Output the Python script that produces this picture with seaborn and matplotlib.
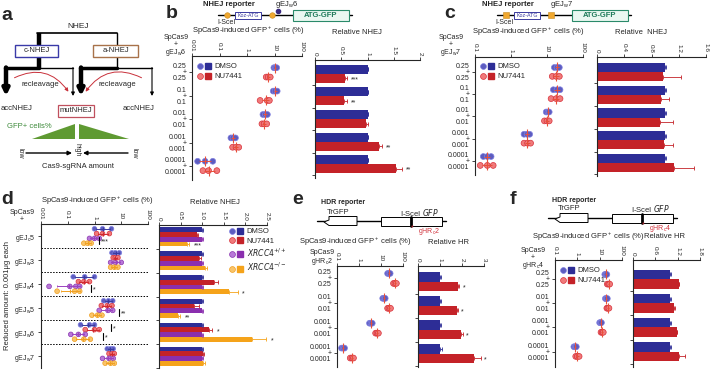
import numpy as np
import pandas as pd
import matplotlib
matplotlib.use("Agg")
import matplotlib.pyplot as plt
import matplotlib.ticker as mticker
import seaborn as sns
from matplotlib.colors import to_hex
from matplotlib.lines import Line2D
from matplotlib.legend_handler import HandlerTuple
from matplotlib.patches import Rectangle, Polygon, FancyArrowPatch

sns.set_style("ticks")
plt.rcParams["font.family"] = ["Liberation Sans", "DejaVu Sans"]
plt.rcParams["mathtext.default"] = "regular"
plt.rcParams["font.size"] = 5

# ---------------- data ----------------
# panel b (gEJw6, NHEJ reporter)
b_doses = ["0.25", "0.1", "0.01", "0.001", "0.0001"]
b_dmso_pts = [[9.5, 10.8, 12.0], [9.0, 10.5, 12.5], [3.8, 4.6, 5.5], [0.26, 0.31, 0.38], [0.016, 0.03, 0.057]]
b_nu_pts = [[5.0, 5.9, 7.0], [3.0, 5.4, 6.5], [3.5, 4.2, 5.2], [0.3, 0.4, 0.5], [0.025, 0.04, 0.08]]
b_rel_dmso = [1.0, 1.0, 1.0, 1.0, 1.0]
b_rel_nu = [0.58, 0.56, 0.98, 1.21, 1.55]
b_err_dmso = [0.01, 0.01, 0.01, 0.01, 0.01]
b_err_nu = [0.03, 0.04, 0.03, 0.06, 0.10]
b_stars = ["***", "**", "", "**", "**"]

# panel c (gEJw7)
c_dmso_pts = [[16, 19, 22], [15, 19, 23], [9.5, 10.6, 11.5], [2.3, 2.8, 3.3], [0.17, 0.22, 0.28]]
c_nu_pts = [[14, 18, 22], [13, 18, 23], [8.5, 10, 11.5], [2.3, 2.9, 3.5], [0.14, 0.22, 0.32]]
c_rel_dmso = [1.0, 1.0, 1.0, 1.0, 1.0]
c_rel_nu = [0.97, 0.94, 0.92, 0.99, 1.13]
c_err_dmso = [0.01, 0.01, 0.01, 0.01, 0.01]
c_err_nu = [0.27, 0.11, 0.19, 0.12, 0.29]

# panel d (reduced amount 0.001 ug each)
d_guides = ["gEJ$_c$5", "gEJ$_w$3", "gEJ$_w$4", "gEJ$_w$5", "gEJ$_w$6", "gEJ$_w$7"]
d_dmso_pts = [[1.0, 2.0, 4.3], [4.5, 6.0, 8.5], [0.16, 0.43, 1.0], [2.2, 3.3, 4.8], [0.3, 0.65, 1.0], [3.0, 4.0, 5.0]]
d_nu_pts = [[1.2, 2.0, 3.6], [5.0, 6.0, 7.5], [0.25, 0.4, 0.65], [1.8, 3.0, 4.5], [0.45, 1.0, 1.5], [3.5, 4.5, 5.5]]
d_xp_pts = [[0.65, 1.0, 1.5], [4.0, 6.0, 10.0], [0.02, 0.12, 0.2, 0.28], [1.5, 3.2, 4.8], [0.13, 0.25, 0.45], [2.0, 3.5, 5.0]]
d_xm_pts = [[0.4, 0.55, 0.75], [4.0, 5.5, 7.5], [0.04, 0.18, 0.28], [0.8, 1.3, 1.9], [0.18, 0.4, 0.7], [2.5, 4.0, 5.5]]
d_rel_dmso = [1.0, 1.0, 1.0, 1.0, 1.0, 1.0]
d_rel_nu = [0.87, 0.93, 1.27, 0.80, 1.16, 1.02]
d_rel_xp = [1.0, 1.0, 1.0, 1.0, 1.0, 1.0]
d_rel_xm = [0.65, 1.06, 1.62, 0.44, 2.15, 1.03]
d_err_dmso = [0.01, 0.01, 0.01, 0.01, 0.01, 0.01]
d_err_nu = [0.04, 0.04, 0.10, 0.13, 0.07, 0.02]
d_err_xp = [0.01, 0.01, 0.01, 0.01, 0.01, 0.01]
d_err_xm = [0.05, 0.06, 0.21, 0.05, 0.33, 0.04]
d_stars_nu = ["", "", "", "", "*", ""]
d_stars_xm = ["***", "", "*", "**", "*", ""]
# scatter brackets: (guide index, first hue, second hue, x position, label)
d_brackets = [(0, 2, 3, 1.5, "***"), (2, 2, 3, 0.77, "*"), (3, 2, 3, 8.4, "**"),
              (4, 0, 1, 4.3, "*"), (4, 2, 3, 2.15, "*")]

# panel e (HDR, gHRc2)
e_doses = ["0.25", "0.01", "0.001", "0.0001"]
e_dmso_pts = [[20, 23, 26], [12, 13.7, 15.5], [3.0, 3.5, 4.0], [0.16, 0.19, 0.22]]
e_nu_pts = [[37, 43, 50], [20, 23, 27], [5.7, 6.6, 7.6], [0.4, 0.48, 0.56]]
e_rel_dmso = [1.0, 1.0, 1.0, 1.0]
e_rel_nu = [1.8, 1.75, 1.97, 2.55]
e_err_dmso = [0.03, 0.03, 0.05, 0.08]
e_err_nu = [0.07, 0.07, 0.08, 0.30]
e_stars = ["*", "*", "*", "*"]

# panel f (HDR, gHRc4)
f_doses = ["0.25", "0.01", "0.001", "0.0001"]
f_dmso_pts = [[17, 19, 21], [18, 20, 22], [10, 11, 12], [0.7, 0.8, 0.9]]
f_nu_pts = [[22, 25, 28], [21, 23, 26], [11.5, 13, 14.5], [0.85, 1.0, 1.2]]
f_rel_dmso = [1.0, 1.0, 1.0, 1.0]
f_rel_nu = [1.23, 1.09, 1.17, 1.23]
f_err_dmso = [0.01, 0.01, 0.01, 0.01]
f_err_nu = [0.01, 0.04, 0.02, 0.18]

# ---------------- colours ----------------
DOT_FILL = {"DMSO": "#5c5cc0", "NU7441": "#f07a7a", "XRCC4+/+": "#b878d8", "XRCC4-/-": "#f9c46a"}
DOT_EDGE = {"DMSO": "#8080e0", "NU7441": "#d8303a", "XRCC4+/+": "#8a35b0", "XRCC4-/-": "#f0a020"}
BAR_COL = {"DMSO": "#2d2d96", "NU7441": "#c42228", "XRCC4+/+": "#8a2fae", "XRCC4-/-": "#f5a31a"}
ERR_COL = {"DMSO": "#3a3aa0", "NU7441": "#d0282e", "XRCC4+/+": "#9b42c0", "XRCC4-/-": "#f0a020"}
RED_ERR = "#e8503a"

W, H = 710, 370
fig = plt.figure(figsize=(W / 100, H / 100), dpi=100)
bg = fig.add_axes([0, 0, 1, 1])
bg.set_xlim(0, W)
bg.set_ylim(H, 0)
bg.axis("off")


def px(x0, y0, x1, y1):
    return [x0 / W, 1 - y1 / H, (x1 - x0) / W, (y1 - y0) / H]


def hue_offsets(n):
    w = 0.8 / n
    return [-0.4 + w * (j + 0.5) for j in range(n)]


def style(ax, xt, xtl, xlim, ylim):
    ax.set_xlim(*xlim)
    ax.set_ylim(*ylim)
    ax.set_xticks(xt)
    ax.set_xticklabels(xtl)
    ax.xaxis.set_minor_locator(mticker.NullLocator())
    ax.xaxis.tick_top()
    ax.tick_params(axis="x", length=2.5, width=0.6, pad=0.8, labelsize=4.6, labelrotation=-90)
    ax.tick_params(axis="y", length=2.5, width=0.6, pad=1.5, labelsize=5)
    for s in ["right", "bottom"]:
        ax.spines[s].set_visible(False)
    for s in ["left", "top"]:
        ax.spines[s].set_linewidth(0.8)
    ax.set_xlabel("")
    ax.set_ylabel("")
    ax.patch.set_alpha(0)


def dots(ax, cats, groups, pts, err_col, msize, ems, cap=0):
    rows = [(c, g, v) for g, gp in zip(groups, pts) for c, vals in zip(cats, gp) for v in vals]
    df = pd.DataFrame(rows, columns=["cat", "grp", "val"])
    sns.stripplot(data=df, x="val", y="cat", hue="grp", order=cats, hue_order=groups,
                  palette=[DOT_FILL[g] for g in groups], dodge=True, jitter=False,
                  size=msize, linewidth=0.5, log_scale=True, legend=False, ax=ax, zorder=2)
    inv = {to_hex(v): k for k, v in DOT_FILL.items()}
    for coll in ax.collections:
        fc = coll.get_facecolor()
        if len(fc):
            coll.set_edgecolor(DOT_EDGE.get(inv.get(to_hex(fc[0])), "white"))
    offs = hue_offsets(len(groups))
    for j, (g, gp) in enumerate(zip(groups, pts)):
        col = err_col if err_col else ERR_COL[g]
        for i, vals in enumerate(gp):
            lv = np.log10(vals)
            m, s = lv.mean(), lv.std()
            ax.errorbar(10 ** m, i + offs[j], xerr=[[10 ** m - 10 ** (m - s)], [10 ** (m + s) - 10 ** m]],
                        fmt="none", ecolor=col, elinewidth=0.7, capsize=cap, capthick=0.6, zorder=3)
            ax.plot(10 ** m, i + offs[j], marker="|", ms=ems, mew=0.8, color=col, zorder=3)


def bars(ax, cats, groups, vals, errs, stars, pad):
    rows = [(c, g, v) for g, gv in zip(groups, vals) for c, v in zip(cats, gv)]
    df = pd.DataFrame(rows, columns=["cat", "grp", "val"])
    sns.barplot(data=df, x="val", y="cat", hue="grp", order=cats, hue_order=groups,
                palette=[BAR_COL[g] for g in groups], errorbar=None, width=0.8, saturation=1,
                legend=False, ax=ax, linewidth=0, orient="h")
    for cont, g, ge, gs in zip(ax.containers, groups, errs, stars):
        for bar, e, st in zip(cont, ge, gs):
            yc = bar.get_y() + bar.get_height() / 2
            w = bar.get_width()
            ax.errorbar(w, yc, xerr=[[0], [e]], fmt="none", ecolor=BAR_COL[g], elinewidth=0.6,
                        capsize=1.2, capthick=0.6)
            if st:
                ax.text(w + e + pad, yc + 0.08, st, fontsize=5, ha="left", va="center")
    ax.set_yticks(np.arange(len(cats)) + 0.5)
    ax.set_yticklabels([])


def legend_at(x, y, groups, labels, spacing=0.35):
    handles = [(Line2D([], [], ls="", marker="o", ms=4.2, mfc=DOT_FILL[g], mec=DOT_EDGE[g], mew=0.5),
                Line2D([], [], ls="", marker="s", ms=4.2, mfc=BAR_COL[g], mec=BAR_COL[g]))
               for g in groups]
    fig.legend(handles, labels, loc="upper left", bbox_to_anchor=(x, y), bbox_transform=bg.transData,
               frameon=False, fontsize=5.5, handler_map={tuple: HandlerTuple(ndivide=None, pad=0.15)},
               handlelength=1.9, handletextpad=0.4, labelspacing=spacing, borderpad=0, borderaxespad=0)


def dose_labels(cats):
    return [f"{c}\n+\n{c}" for c in cats]


two = ["DMSO", "NU7441"]
log_t = [0.01, 0.1, 1, 10, 100]
log_l = ["0.01", "0.1", "1", "10", "100"]

# ---------------- panel a ----------------
bg.text(1, 15, "a", fontsize=14, fontweight="bold", va="center")
bg.text(78, 27, "NHEJ", ha="center", va="center", fontsize=6)
bg.plot([37, 117], [33, 33], color="k", lw=1.2)
bg.plot([39, 39], [33, 68], color="k", lw=3.2, solid_capstyle="butt")
bg.plot([117, 117], [33, 45], color="k", lw=1.0)
bg.add_patch(Rectangle((15, 45), 43, 12, fc="white", ec="#3a3aa8", lw=1.0, zorder=3))
bg.add_patch(Rectangle((93, 45), 45, 12, fc="white", ec="#a8724a", lw=1.0, zorder=3))
bg.text(36.5, 51, "c-NHEJ", ha="center", va="center", fontsize=5.5, zorder=4)
bg.text(115.5, 51, "a-NHEJ", ha="center", va="center", fontsize=5.5, zorder=4)
bg.plot([5, 73], [68, 68], color="k", lw=1.0)
bg.plot([5, 39], [68, 68], color="k", lw=2.5)
bg.plot([117, 117], [57, 68], color="k", lw=1.0)
bg.plot([80, 152], [68, 68], color="k", lw=1.0)
bg.plot([80, 117], [68, 68], color="k", lw=2.5)
for xa, lw, ms in [(6, 3.2, 9), (73, 0.8, 5), (81, 3.2, 9), (152, 0.8, 5)]:
    bg.annotate("", xy=(xa, 96), xytext=(xa, 67.5),
                arrowprops=dict(arrowstyle="-|>", lw=lw, color="k", mutation_scale=ms, shrinkA=0, shrinkB=0))
bg.add_patch(FancyArrowPatch((12, 79), (70, 94), connectionstyle="arc3,rad=-0.45", arrowstyle="-|>",
                             mutation_scale=5, color="#c8303a", lw=0.7))
bg.add_patch(FancyArrowPatch((144, 79), (84, 94), connectionstyle="arc3,rad=0.45", arrowstyle="-|>",
                             mutation_scale=5, color="#c8303a", lw=0.7))
bg.text(40, 84, "recleavage", ha="center", va="center", fontsize=5.5)
bg.text(117, 84, "recleavage", ha="center", va="center", fontsize=5.5)
bg.text(0.5, 109, "accNHEJ", ha="left", va="center", fontsize=5.5)
bg.text(139, 109, "accNHEJ", ha="center", va="center", fontsize=5.5)
bg.add_patch(Rectangle((58, 105), 36, 12, fc="white", ec="#c0505e", lw=0.9))
bg.text(76, 111, "mutNHEJ", ha="center", va="center", fontsize=5.5)
bg.text(7, 127, "GFP+ cells%", ha="left", va="center", fontsize=5.5, color="#3d8a3a")
bg.add_patch(Polygon([(32, 139), (75, 139), (75, 124)], closed=True, fc="#5f9a32", ec="none"))
bg.add_patch(Polygon([(79, 139), (129, 139), (79, 124)], closed=True, fc="#5f9a32", ec="none"))
bg.annotate("", xy=(72, 153), xytext=(26, 153),
            arrowprops=dict(arrowstyle="-|>", lw=1.0, color="k", mutation_scale=6, shrinkA=0, shrinkB=0))
bg.annotate("", xy=(83, 153), xytext=(128, 153),
            arrowprops=dict(arrowstyle="-|>", lw=1.0, color="k", mutation_scale=6, shrinkA=0, shrinkB=0))
bg.text(20, 153, "low", rotation=-90, ha="center", va="center", fontsize=5)
bg.text(134, 153, "low", rotation=-90, ha="center", va="center", fontsize=5)
bg.text(77, 150, "high", rotation=-90, ha="center", va="center", fontsize=5)
bg.text(78, 167, "Cas9-sgRNA amount", ha="center", va="center", fontsize=5.5)


# ---------------- NHEJ reporter drawings ----------------
def nhej_reporter(x0, guide, dot_marker, gx, gy_mark):
    bg.text(x0 - 15, 5, "NHEJ reporter", fontweight="bold", fontsize=5.5, va="center")
    bg.plot([x0, x0 + 134], [15, 15], color="k", lw=1.0, zorder=1)
    bg.plot(x0 + 9, 15, dot_marker, ms=4, mfc="#f0a830", mec="#c88a20", mew=0.4, zorder=3)
    bg.text(x0 + 8, 22.5, "I-SceI", ha="center", va="center", fontsize=5)
    bg.add_patch(Rectangle((x0 + 17, 11.5), 26, 7, fc="white", ec="#3a3aa0", lw=0.7, zorder=2))
    bg.text(x0 + 30, 15.2, "Koz-ATG", color="#3a3aa0", fontsize=3.8, ha="center", va="center", zorder=3)
    bg.plot(x0 + 54, 15, dot_marker, ms=4, mfc="#f0a830", mec="#c88a20", mew=0.4, zorder=3)
    if gy_mark:
        bg.plot(x0 + 60, 11, "o", ms=3, color="#3a2a80", zorder=3)
    bg.text(gx, 5, guide, ha="center", va="center", fontsize=5.5)
    bg.add_patch(Rectangle((x0 + 75, 9.5), 56, 11.5, fc="#eaf7f1", ec="#2a8a6a", lw=0.8, zorder=2))
    bg.text(x0 + 103, 15.5, "ATG-GFP", color="#1f7a5a", fontweight="bold", fontsize=5.5,
            ha="center", va="center", zorder=3)


def hdr_reporter(x0, yline, guide):
    bg.text(x0 + 4, yline - 18, "HDR reporter", fontweight="bold", fontsize=5, va="center")
    bg.plot([x0, x0 + 129], [yline, yline], color="k", lw=1.0, zorder=1)
    bg.add_patch(Polygon([(x0 + 12, yline - 4.5), (x0 + 40, yline - 4.5), (x0 + 40, yline + 4.5),
                          (x0 + 12, yline + 4.5), (x0 + 7, yline + 1), (x0 + 12, yline - 1)],
                         closed=True, fc="white", ec="k", lw=0.7, zorder=2))
    bg.text(x0 + 21, yline - 9, "TrGFP", ha="center", va="center", fontsize=5.5)
    bg.add_patch(Rectangle((x0 + 64, yline - 4.5), 61, 9, fc="white", ec="k", lw=0.7, zorder=2))
    bg.plot([x0 + 94, x0 + 94], [yline - 4.5, yline + 4.5], color="k", lw=2.0, zorder=3)
    bg.text(x0 + 102, yline - 9, "I-SceI $\\it{GFP}$", ha="center", va="center", fontsize=5.5)
    bg.text(x0 + 95, yline + 6.5, "*", ha="center", va="center", fontsize=5, color="#d0303a")
    bg.text(x0 + 112, yline + 10.5, guide, ha="center", va="center", fontsize=5, color="#d0303a")


# ---------------- panel b ----------------
bg.text(166, 14, "b", fontsize=14, fontweight="bold", va="center")
nhej_reporter(218, "gEJ$_w$6", "o", 287, True)
bg.text(248, 31, "SpCas9-induced GFP$^+$ cells (%)", ha="center", va="center", fontsize=5.5)
bg.text(357, 32, "Relative NHEJ", ha="center", va="center", fontsize=5.5)
bg.text(176, 46, "SpCas9\n+\ngEJ$_w$6", ha="center", va="center", fontsize=5, linespacing=0.85)

ax = fig.add_axes(px(192, 56, 302, 180))
dots(ax, b_doses, two, [b_dmso_pts, b_nu_pts], RED_ERR, 4.2, 7)
style(ax, log_t, log_l, (0.01, 100), (4.6, -0.7))
ax.set_yticks(range(len(b_doses)))
ax.set_yticklabels(dose_labels(b_doses), linespacing=0.8)
legend_at(197, 63, two, ["DMSO", "NU7441"])

ax = fig.add_axes(px(315, 60, 420, 178))
bars(ax, b_doses, two, [b_rel_dmso, b_rel_nu], [b_err_dmso, b_err_nu], [[""] * 5, b_stars], 0.08)
style(ax, [0, 0.5, 1, 1.5, 2], ["0", "0.5", "1", "1.5", "2"], (0, 2), (4.62, -0.62))

# ---------------- panel c ----------------
bg.text(444, 13, "c", fontsize=14, fontweight="bold", va="center")
nhej_reporter(497, "gEJ$_w$7", "s", 562, False)
bg.text(528, 32, "SpCas9-induced GFP$^+$ cells (%)", ha="center", va="center", fontsize=5.5)
bg.text(641, 32, "Relative  NHEJ", ha="center", va="center", fontsize=5.5)
bg.text(451, 46, "SpCas9\n+\ngEJ$_w$7", ha="center", va="center", fontsize=5, linespacing=0.85)

ax = fig.add_axes(px(475, 57, 583, 175))
dots(ax, b_doses, two, [c_dmso_pts, c_nu_pts], RED_ERR, 4.2, 7)
style(ax, [0.1, 1, 10, 100], ["0.1", "1", "10", "100"], (0.1, 100), (4.63, -0.67))
ax.set_yticks(range(len(b_doses)))
ax.set_yticklabels(dose_labels(b_doses), linespacing=0.8)
legend_at(480, 63, two, ["DMSO", "NU7441"])

ax = fig.add_axes(px(597, 57, 706, 176))
bars(ax, b_doses, two, [c_rel_dmso, c_rel_nu], [c_err_dmso, c_err_nu], [[""] * 5, [""] * 5], 0.05)
style(ax, [0, 0.4, 0.8, 1.2, 1.6], ["0", "0.4", "0.8", "1.2", "1.6"], (0, 1.6), (4.57, -0.66))

# ---------------- panel d ----------------
four = ["DMSO", "NU7441", "XRCC4+/+", "XRCC4-/-"]
bg.text(1, 199, "d", fontsize=14, fontweight="bold", va="center")
bg.text(97, 201, "SpCas9-induced GFP$^+$ cells (%)", ha="center", va="center", fontsize=5.5)
bg.text(215, 203, "Relative NHEJ", ha="center", va="center", fontsize=5.5)
bg.text(22, 216, "SpCas9\n+", ha="center", va="center", fontsize=5, linespacing=0.85)
bg.text(8, 296, "Reduced amount: 0.001μg each", rotation=90, ha="center", va="center", fontsize=5.5)

ax = fig.add_axes(px(41, 224, 148, 368))
dots(ax, d_guides, four, [d_dmso_pts, d_nu_pts, d_xp_pts, d_xm_pts], None, 3.4, 3.5, cap=1)
style(ax, log_t, log_l, (0.01, 100), (5.5, -0.5))
ax.set_yticks(range(len(d_guides)))
ax.set_yticklabels(d_guides)
for k in range(len(d_guides) - 1):
    ax.axhline(k + 0.5, color="k", lw=0.7, ls=(0, (1.5, 1.5)), xmin=0, xmax=1, clip_on=False)
offs4 = hue_offsets(4)
for gi, h1, h2, xb, lab in d_brackets:
    ax.plot([xb, xb], [gi + offs4[h1] - 0.05, gi + offs4[h2] + 0.05], color="k", lw=0.8)
    ax.text(xb * 1.15, gi + (offs4[h1] + offs4[h2]) / 2 + 0.06, lab, fontsize=5, ha="left", va="center")

ax = fig.add_axes(px(159, 225, 267, 368))
bars(ax, d_guides, four, [d_rel_dmso, d_rel_nu, d_rel_xp, d_rel_xm],
     [d_err_dmso, d_err_nu, d_err_xp, d_err_xm], [[""] * 6, d_stars_nu, [""] * 6, d_stars_xm], 0.1)
style(ax, [0, 0.5, 1, 1.5, 2, 2.5], ["0", "0.5", "1.0", "1.5", "2.0", "2.5"], (0, 2.5), (5.5, -0.5))
legend_at(229, 228, four, ["DMSO", "NU7441", "$\\it{XRCC4}^{+/+}$", "$\\it{XRCC4}^{-/-}$"], spacing=0.25)

# ---------------- panel e ----------------
bg.text(292, 200, "e", fontsize=14, fontweight="bold", va="center")
hdr_reporter(317, 221, "gHR$_c$2")
bg.text(355, 242, "SpCas9-induced GFP$^+$ cells (%)", ha="center", va="center", fontsize=5.5)
bg.text(449, 242, "Relative HR", ha="center", va="center", fontsize=5.5)
bg.text(322, 258, "SpCas9\ngHR$_c$2", ha="center", va="center", fontsize=5, linespacing=1.1)

ax = fig.add_axes(px(337, 266, 403, 367))
dots(ax, e_doses, two, [e_dmso_pts, e_nu_pts], RED_ERR, 4.2, 7)
style(ax, [0.1, 1, 10, 100], ["0.1", "1", "10", "100"], (0.1, 100), (3.56, -0.5))
ax.set_yticks(range(len(e_doses)))
ax.set_yticklabels(dose_labels(e_doses), linespacing=0.8)

ax = fig.add_axes(px(418, 266, 484, 367))
bars(ax, e_doses, two, [e_rel_dmso, e_rel_nu], [e_err_dmso, e_err_nu], [[""] * 4, e_stars], 0.15)
style(ax, [0, 1, 2, 3], ["0", "1", "2", "3"], (0, 3), (3.56, -0.65))

# ---------------- panel f ----------------
bg.text(510, 200, "f", fontsize=14, fontweight="bold", va="center")
hdr_reporter(548, 218, "gHR$_c$4")
bg.text(588, 237, "SpCas9-induced GFP$^+$ cells (%)", ha="center", va="center", fontsize=5.5)
bg.text(665, 237, "Relative HR", ha="center", va="center", fontsize=5.5)
bg.text(533, 259, "SpCas9\n+\ngHR$_c$4", ha="center", va="center", fontsize=5, linespacing=0.85)

ax = fig.add_axes(px(555, 260, 622, 367))
dots(ax, f_doses, two, [f_dmso_pts, f_nu_pts], RED_ERR, 4.2, 7)
style(ax, [0.1, 1, 10, 100], ["0.1", "1", "10", "100"], (0.1, 100), (3.64, -0.8))
ax.set_yticks(range(len(f_doses)))
ax.set_yticklabels(dose_labels(f_doses), linespacing=0.8)
legend_at(560, 267, two, ["DMSO", "NU7441"])

ax = fig.add_axes(px(633, 260, 700, 367))
bars(ax, f_doses, two, [f_rel_dmso, f_rel_nu], [f_err_dmso, f_err_nu], [[""] * 4, [""] * 4], 0.05)
style(ax, [0, 0.6, 1.2, 1.8], ["0", "0.6", "1.2", "1.8"], (0, 1.8), (3.64, -0.8))

fig.savefig("out.png", dpi=100)
